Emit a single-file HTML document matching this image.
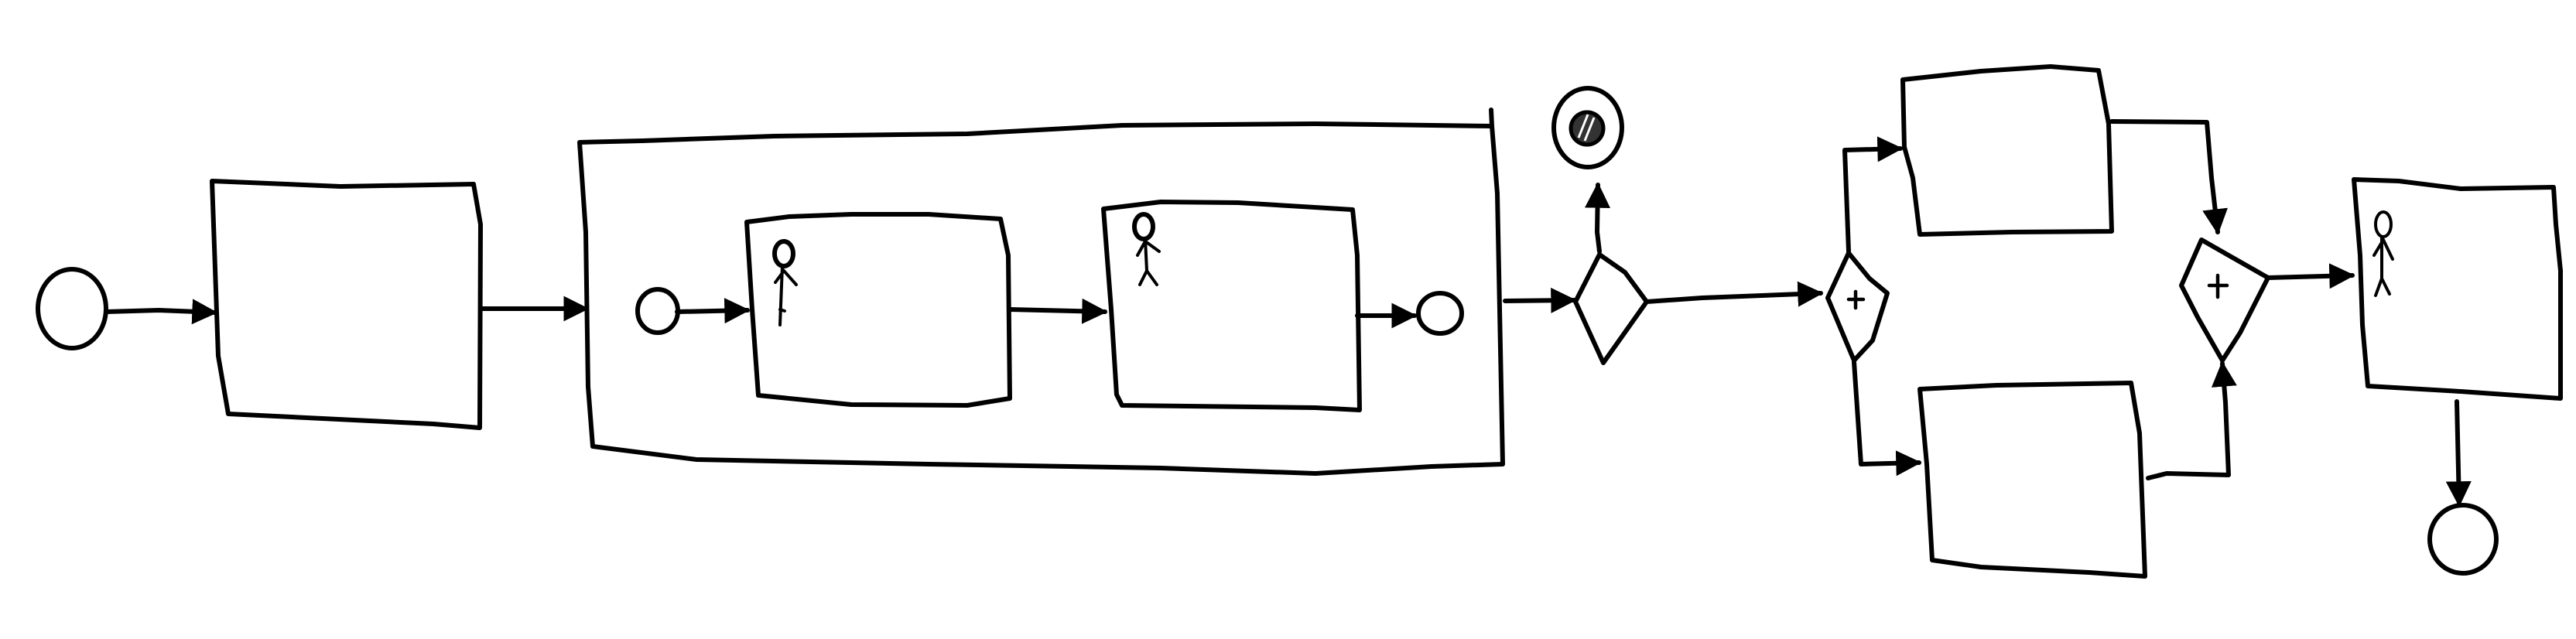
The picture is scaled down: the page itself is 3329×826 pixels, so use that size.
<!DOCTYPE html>
<html><head><meta charset="utf-8"><style>html,body{margin:0;padding:0;background:#fff}svg{display:block}</style></head>
<body>
<svg width="3329" height="826" viewBox="0 0 3329 826" xmlns="http://www.w3.org/2000/svg">
<defs>
<marker id="ar" viewBox="0 0 10 10" refX="9" refY="5" markerWidth="5.5" markerHeight="5.5" orient="auto" markerUnits="strokeWidth"><path d="M0,0 L10,5 L0,10 z" fill="#000"/></marker>
</defs>
<g fill="none" stroke="#000" stroke-width="6" stroke-linejoin="round" stroke-linecap="round">
<ellipse cx="93" cy="399" rx="44" ry="51"/>
<path d="M137,403 L205,401 L278,404" marker-end="url(#ar)"/>
<path d="M274,234 L440,241 L612,238 L621,290 L620,553 L560,548 L295,535 L282,460 L274,234 Z"/>
<path d="M624,399 L758,399" marker-end="url(#ar)"/>
<path d="M749,184 L830,182 L1000,176 L1250,173 L1450,162 L1700,160 L1928,163 L1935,250 L1942,600 L1850,603 L1700,612 L1500,605 L1200,600 L900,594 L766,577 L760,500 L757,300 Z"/>
<path d="M1928,163 L1927,142"/>
<ellipse cx="850" cy="402" rx="26" ry="28"/>
<path d="M875,403 L966,401" marker-end="url(#ar)"/>
<path d="M965,287 L1020,280 L1100,277 L1200,277 L1293,283 L1303,330 L1305,515 L1250,524 L1100,523 L980,511 L972,400 L965,287 Z"/>
<path d="M1305,400 L1428,403" marker-end="url(#ar)"/>
<path d="M1426,270 L1500,261 L1600,262 L1748,271 L1754,330 L1757,530 L1700,527 L1450,524 L1443,510 L1436,400 L1426,270 Z"/>
<path d="M1754,408 L1828,408" marker-end="url(#ar)"/>
<ellipse cx="1861" cy="405" rx="28" ry="26"/>
<path d="M1945,389 L2034,388" marker-end="url(#ar)"/>
<path d="M2036,390 L2067,329 L2100,352 L2128,390 L2072,469 Z"/>
<path d="M2067,325 L2064,300 L2065,239" marker-end="url(#ar)"/>
<ellipse cx="2052" cy="165" rx="44" ry="51"/>
<path d="M2128,390 L2200,385 L2353,379" marker-end="url(#ar)"/>
<path d="M2362,385 L2389,327 L2416,360 L2439,379 L2420,440 L2396,466 Z"/>
<path d="M2389,325 L2384,194 L2456,192" marker-end="url(#ar)"/>
<path d="M2396,468 L2405,600 L2480,598" marker-end="url(#ar)"/>
<path d="M2459,103 L2560,92 L2650,86 L2712,91 L2725,160 L2729,299 L2600,300 L2481,303 L2472,230 L2461,190 Z"/>
<path d="M2481,503 L2580,498 L2754,495 L2765,560 L2772,745 L2700,740 L2560,733 L2497,724 L2490,600 Z"/>
<path d="M2729,157 L2852,158 L2858,230 L2866,300" marker-end="url(#ar)"/>
<path d="M2776,618 L2800,612 L2880,614 L2876,520 L2872,470" marker-end="url(#ar)"/>
<path d="M2819,369 L2845,310 L2880,330 L2931,359 L2895,430 L2872,466 L2840,410 Z"/>
<path d="M2931,359 L3040,356" marker-end="url(#ar)"/>
<path d="M3042,232 L3100,234 L3180,244 L3300,242 L3303,290 L3309,350 L3309,515 L3180,506 L3060,499 L3053,420 L3050,330 Z"/>
<path d="M3175,519 L3178,652" marker-end="url(#ar)"/>
<ellipse cx="3183" cy="697" rx="43" ry="44"/>
</g>
<ellipse cx="2051" cy="166" rx="21" ry="21" fill="#333" stroke="#000" stroke-width="5"/>
<path d="M2040,178 L2052,148 M2048,182 L2060,152" stroke="#fff" stroke-width="3"/>
<g stroke="#000" stroke-width="4.5" fill="none" stroke-linecap="round">
<path d="M2389,387 L2408,387 M2398,377 L2398,398"/>
<path d="M2855,369 L2878,369 M2866,356 L2866,384"/>
</g>
<g stroke="#000" stroke-width="4" fill="none" stroke-linecap="round">
<ellipse cx="1013" cy="328" rx="12" ry="16" stroke-width="6"/>
<path d="M1011,344 L1008,420 M1002,365 L1013,350 L1029,368 M1008,400 L1014,402"/>
<ellipse cx="1478" cy="293" rx="12" ry="16" stroke-width="6"/>
<path d="M1480,309 L1482,350 L1473,368 M1482,350 L1495,368 M1470,330 L1480,312 L1498,325"/>
<ellipse cx="3080" cy="290" rx="10" ry="16"/>
<path d="M3078,306 L3078,360 L3070,382 M3078,360 L3088,380 M3068,330 L3080,310 L3092,335"/>
</g>
</svg>
</body></html>
